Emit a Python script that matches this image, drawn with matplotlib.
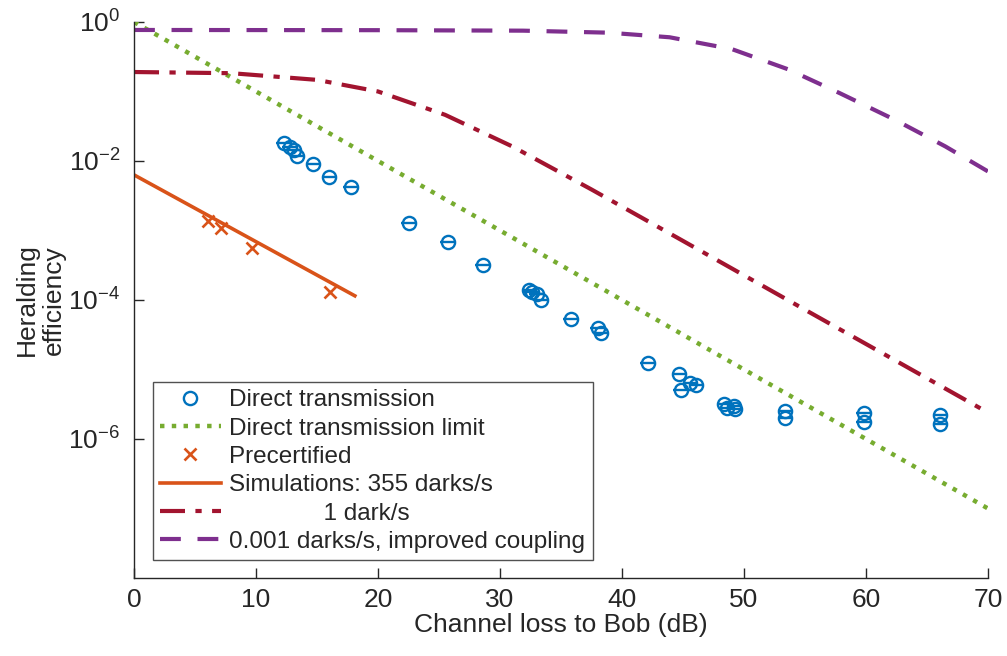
import numpy as np
import matplotlib
matplotlib.use("Agg")
import matplotlib.pyplot as plt
from matplotlib.lines import Line2D

plt.rcParams['font.family'] = ['Liberation Sans', 'DejaVu Sans']
plt.rcParams['mathtext.fontset'] = 'custom'
plt.rcParams['mathtext.rm'] = 'Liberation Sans'
plt.rcParams['mathtext.it'] = 'Liberation Sans'

# Direct transmission measurements (loss in dB, log10 efficiency)
direct_x = [12.3, 12.8, 13.1, 13.4, 14.7, 16.0, 17.8, 22.5, 25.7, 28.6,
            32.4, 32.6, 33.0, 33.4, 35.8, 38.0, 38.3, 42.1, 44.7, 44.8,
            45.6, 46.1, 48.4, 48.6, 49.2, 49.3, 53.4, 53.4, 59.8, 59.8,
            66.1, 66.1]
direct_log = [-1.74, -1.80, -1.84, -1.93, -2.04, -2.23, -2.37, -2.89, -3.16, -3.49,
              -3.86, -3.89, -3.91, -4.00, -4.27, -4.40, -4.48, -4.90, -5.06, -5.30,
              -5.20, -5.22, -5.50, -5.56, -5.53, -5.57, -5.60, -5.70, -5.63, -5.75,
              -5.66, -5.78]
direct_xerr = 0.63

# Precertified
pre_x = [6.1, 7.1, 9.7, 16.1]
pre_log = [-2.86, -2.97, -3.25, -3.88]

# Direct transmission limit
lim_x = [0, 70]
lim_log = [0.0, -7.0]

# Simulation: 355 darks/s
sim355_x = [0, 18.1]
sim355_log = [-2.20, -3.94]

# Simulation: 1 dark/s
sim1_x = [0, 8.0, 15.0, 20.0, 25.5, 31.0, 37.5, 45.0, 55.0, 62.0, 70.0]
sim1_log = [-0.72, -0.737, -0.833, -1.0, -1.336, -1.79, -2.41, -3.15, -4.14, -4.83, -5.62]

# Simulation: 0.001 darks/s, improved coupling
sim001_x = [0, 20.0, 31.9, 38.9, 43.9, 49.0, 53.6, 57.8, 62.4, 66.5, 70.0]
sim001_log = [-0.115, -0.118, -0.125, -0.154, -0.22, -0.39, -0.68, -1.02, -1.41, -1.79, -2.15]

ytick_vals = [1e0, 1e-2, 1e-4, 1e-6]
ytick_labels = [r'$10^{0}$', r'$10^{-2}$', r'$10^{-4}$', r'$10^{-6}$']
xtick_vals = list(range(0, 71, 10))

blue = '#0072BD'
orange = '#D95319'
green = '#77AC30'
red = '#A2142F'
purple = '#7E2F8E'
ink = '#262626'

fig = plt.figure(figsize=(10.07, 6.56), dpi=100)
ax = fig.add_axes([0.1331, 0.1189, 0.8480, 0.8476])

p = lambda a: 10.0 ** np.asarray(a)

ax.plot(lim_x, p(lim_log), ':', color=green, lw=3.2)
ax.plot(sim1_x, p(sim1_log), '-.', color=red, lw=3.0, dashes=[6, 2.5, 1.5, 2.5])
ax.plot(sim001_x, p(sim001_log), '--', color=purple, lw=3.0, dashes=[5, 4])
ax.errorbar(direct_x, p(direct_log), xerr=direct_xerr, fmt='o', mfc='none',
            mec=blue, ecolor=blue, ms=9.5, mew=1.7, elinewidth=1.7, capsize=0)
ax.plot(pre_x, p(pre_log), 'x', color=orange, ms=9, mew=1.9)
ax.plot(sim355_x, p(sim355_log), '-', color=orange, lw=2.6)

ax.set_yscale('log')
ax.set_xlim(0, 70)
ax.set_ylim(1e-8, 1e0)
ax.set_xticks(xtick_vals)
ax.set_yticks(ytick_vals)
ax.set_yticklabels(ytick_labels)
ax.yaxis.set_minor_locator(matplotlib.ticker.NullLocator())
ax.tick_params(direction='in', length=7, width=1, labelsize=19, colors=ink)
ax.tick_params(axis='x', pad=7)
ax.tick_params(axis='y', pad=10)
for s in ['top', 'right']:
    ax.spines[s].set_visible(False)
for s in ['left', 'bottom']:
    ax.spines[s].set_color(ink)
    ax.spines[s].set_linewidth(1)

ax.set_xlabel('Channel loss to Bob (dB)', fontsize=19, color=ink, labelpad=1)
ax.set_ylabel('Heralding\nefficiency', fontsize=19, color=ink, linespacing=1.15)
ax.yaxis.set_label_coords(-0.08, 0.5)

handles = [
    Line2D([], [], ls='none', marker='o', mfc='none', mec=blue, ms=9.5, mew=1.7),
    Line2D([], [], ls=':', color=green, lw=3.2),
    Line2D([], [], ls='none', marker='x', color=orange, ms=9, mew=1.9),
    Line2D([], [], ls='-', color=orange, lw=2.6),
    Line2D([], [], ls='-.', color=red, lw=3.0, dashes=[6, 2.5, 1.5, 2.5]),
    Line2D([], [], ls='--', color=purple, lw=3.0, dashes=[5, 4]),
]
labels = ['Direct transmission', 'Direct transmission limit', 'Precertified',
          'Simulations: 355 darks/s', '              1 dark/s',
          '0.001 darks/s, improved coupling']
leg = ax.legend(handles, labels, loc='lower left', bbox_to_anchor=(0.022, 0.032),
                fontsize=17.5, frameon=True, fancybox=False, edgecolor=ink,
                handlelength=2.5, handletextpad=0.35, labelspacing=0.26,
                borderpad=0.3, borderaxespad=0)
leg.get_frame().set_linewidth(1.0)
for t in leg.get_texts():
    t.set_color(ink)

fig.savefig('out.png', dpi=100)
